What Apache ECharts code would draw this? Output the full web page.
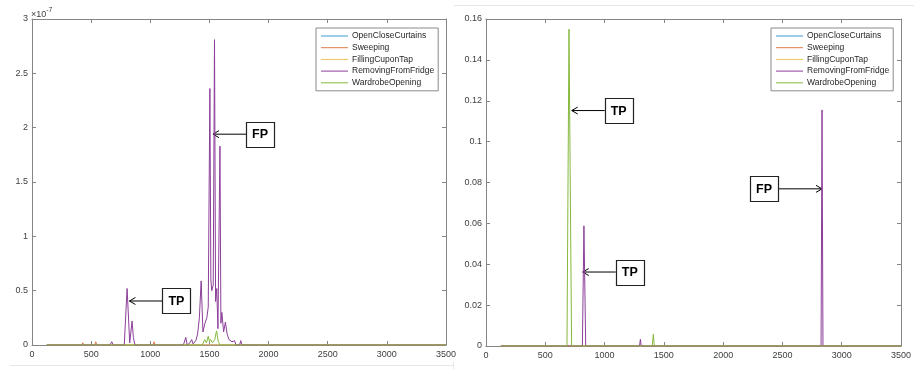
<!DOCTYPE html>
<html>
<head>
<meta charset="utf-8">
<script src="https://cdn.jsdelivr.net/npm/echarts@6/dist/echarts.min.js"></script>
<style>
  html, body { margin: 0; padding: 0; background: #fff; }
  #main { width: 914px; height: 369px; }
</style>
</head>
<body>
<div id="main"></div>
<script>
// series names (legend order)
var seriesNames = ['OpenCloseCurtains', 'Sweeping', 'FillingCuponTap', 'RemovingFromFridge', 'WardrobeOpening'];
var seriesColors = ['#3d9bd4', '#dd7a4a', '#eec35a', '#8b3e99', '#86b83e'];

// x axis ticks (shared)
var xTicks = [0, 500, 1000, 1500, 2000, 2500, 3000, 3500];

// ---- left panel (values in units of 1e-7) ----
var leftCurtainsX = [125, 3500];
var leftCurtainsY = [0, 0];
var leftSweepingX = [125, 420, 429, 438, 530, 539, 548, 1022, 1032, 1042, 3500];
var leftSweepingY = [0, 0, 0.02, 0, 0, 0.03, 0, 0, 0.03, 0, 0];
var leftFillingX = [125, 3500];
var leftFillingY = [0, 0];
var leftFridgeX = [125, 660, 674, 688, 780, 804, 826, 846, 857, 870,
  1280, 1300, 1312, 1335, 1350, 1362, 1385, 1400, 1415, 1430, 1445, 1462, 1478, 1490,
  1504, 1512, 1520, 1532, 1543, 1552, 1562, 1572, 1589, 1597, 1605, 1620, 1635, 1650,
  1665, 1690, 1712, 1725, 1755, 1765, 1775, 1920, 1928, 1936, 3500];
var leftFridgeY = [0, 0, 0.03, 0, 0, 0.52, 0.02, 0.22, 0.07, 0,
  0, 0.07, 0, 0.02, 0.05, 0.01, 0.04, 0.1, 0.25, 0.59, 0.12, 0.2, 0.25, 0.35,
  2.36, 0.6, 0.5, 0.55, 2.81, 0.4, 0.52, 0.15, 1.83, 0.2, 0.3, 0.12, 0.21, 0.1,
  0.05, 0.03, 0.04, 0, 0, 0.04, 0, 0, 0.01, 0, 0];
var leftWardrobeX = [125, 1440, 1460, 1475, 1490, 1500, 1510, 1525, 1545, 1560, 1575, 1590, 3500];
var leftWardrobeY = [0, 0, 0.05, 0.02, 0.08, 0.03, 0.05, 0.02, 0.05, 0.13, 0.03, 0, 0];
var leftYTicks = [0, 0.5, 1, 1.5, 2, 2.5, 3];

// ---- right panel ----
var rightCurtainsX = [125, 3500];
var rightCurtainsY = [0, 0];
var rightSweepingX = [125, 3500];
var rightSweepingY = [0, 0];
var rightFillingX = [125, 3500];
var rightFillingY = [0, 0];
var rightFridgeX = [125, 813, 826, 841, 1295, 1302, 1309, 2826, 2834, 2842, 3500];
var rightFridgeY = [0, 0, 0.0588, 0, 0, 0.0033, 0, 0, 0.1155, 0, 0];
var rightWardrobeX = [125, 683, 700, 722, 1402, 1411, 1420, 3500];
var rightWardrobeY = [0, 0, 0.155, 0, 0, 0.0057, 0, 0];
var rightYTicks = [0, 0.02, 0.04, 0.06, 0.08, 0.1, 0.12, 0.14, 0.16];

// annotations: arrow tip in data coords, box on the given side
var annotations = [
  { panel: 0, x: 1530, y: 1.94, text: 'FP', side: 'right' },
  { panel: 0, x: 824, y: 0.405, text: 'TP', side: 'right' },
  { panel: 1, x: 723, y: 0.1152, text: 'TP', side: 'right' },
  { panel: 1, x: 816, y: 0.0362, text: 'TP', side: 'right' },
  { panel: 1, x: 2834, y: 0.0769, text: 'FP', side: 'left' }
];

var panelData = [
  { xs: [leftCurtainsX, leftSweepingX, leftFillingX, leftFridgeX, leftWardrobeX],
    ys: [leftCurtainsY, leftSweepingY, leftFillingY, leftFridgeY, leftWardrobeY],
    yTicks: leftYTicks },
  { xs: [rightCurtainsX, rightSweepingX, rightFillingX, rightFridgeX, rightWardrobeX],
    ys: [rightCurtainsY, rightSweepingY, rightFillingY, rightFridgeY, rightWardrobeY],
    yTicks: rightYTicks }
];

var axisColor = '#858585';
var labelColor = '#404040';
var fontFamily = 'Liberation Sans, Arial, sans-serif';

function zip(xs, ys) {
  var out = [];
  for (var i = 0; i < xs.length; i++) {
    out.push([xs[i], ys[i]]);
  }
  return out;
}

function plainNumber(v) {
  return String(+v.toFixed(6));
}

function xAxisFor(gridIndex, position) {
  return {
    type: 'value',
    gridIndex: gridIndex,
    position: position,
    min: xTicks[0],
    max: xTicks[xTicks.length - 1],
    interval: xTicks[1] - xTicks[0],
    axisLine: { show: true, onZero: false, lineStyle: { color: axisColor, width: 1 } },
    axisTick: { show: true, inside: true, length: 4, lineStyle: { color: axisColor } },
    axisLabel: { show: position === 'bottom', color: labelColor, fontSize: 9, fontFamily: fontFamily, margin: 5, formatter: plainNumber },
    splitLine: { show: false }
  };
}

function yAxisFor(gridIndex, position, ticks) {
  return {
    type: 'value',
    gridIndex: gridIndex,
    position: position,
    min: ticks[0],
    max: ticks[ticks.length - 1],
    interval: ticks[1] - ticks[0],
    axisLine: { show: true, onZero: false, lineStyle: { color: axisColor, width: 1 } },
    axisTick: { show: true, inside: true, length: 4, lineStyle: { color: axisColor } },
    axisLabel: { show: position === 'left', color: labelColor, fontSize: 9, fontFamily: fontFamily, margin: 4, formatter: plainNumber },
    splitLine: { show: false }
  };
}

var grids = [
  { left: 32, top: 19, width: 414, height: 326 },
  { left: 486, top: 19, width: 415, height: 327 }
];

var xAxes = [], yAxes = [], series = [];
for (var p = 0; p < 2; p++) {
  xAxes.push(xAxisFor(p, 'bottom'));
  xAxes.push(xAxisFor(p, 'top'));
  yAxes.push(yAxisFor(p, 'left', panelData[p].yTicks));
  yAxes.push(yAxisFor(p, 'right', panelData[p].yTicks));
  for (var s = 0; s < seriesNames.length; s++) {
    series.push({
      name: seriesNames[s],
      type: 'line',
      xAxisIndex: p * 2,
      yAxisIndex: p * 2,
      data: zip(panelData[p].xs[s], panelData[p].ys[s]),
      showSymbol: false,
      silent: true,
      animation: false,
      color: seriesColors[s],
      lineStyle: { width: 1, color: seriesColors[s] }
    });
  }
}

function legendFor(left) {
  return {
    data: seriesNames,
    orient: 'vertical',
    left: left,
    top: 28,
    icon: 'rect',
    itemWidth: 27,
    itemHeight: 1,
    itemGap: 1.7,
    padding: [3, 4, 3, 5],
    backgroundColor: '#fff',
    borderColor: '#8a8a8a',
    borderWidth: 1,
    borderRadius: 0,
    selectedMode: false,
    textStyle: { color: '#262626', fontSize: 8.5, fontFamily: fontFamily, lineHeight: 10, padding: [0, 0, 0, -1] }
  };
}

var chart = echarts.init(document.getElementById('main'), null, { renderer: 'canvas' });
chart.setOption({
  backgroundColor: '#fff',
  animation: false,
  grid: grids,
  xAxis: xAxes,
  yAxis: yAxes,
  legend: [legendFor(316), legendFor(771)],
  series: series
});

// overlay: exponent label, screenshot edges, annotation boxes/arrows
var graphics = [
  { type: 'line', shape: { x1: 454, y1: 5.5, x2: 914, y2: 5.5 }, style: { stroke: '#e6e6e6', lineWidth: 1 }, silent: true },
  { type: 'line', shape: { x1: 10, y1: 365.5, x2: 453, y2: 365.5 }, style: { stroke: '#e6e6e6', lineWidth: 1 }, silent: true },
  { type: 'line', shape: { x1: 453.5, y1: 362, x2: 453.5, y2: 369 }, style: { stroke: '#e6e6e6', lineWidth: 1 }, silent: true },
  {
    type: 'text', left: 31, top: 7, silent: true,
    style: {
      text: '{b|\u00d710}{s|-7}',
      rich: {
        b: { fontSize: 9, fontFamily: fontFamily, fill: labelColor, verticalAlign: 'bottom', lineHeight: 12 },
        s: { fontSize: 7, fontFamily: fontFamily, fill: labelColor, verticalAlign: 'top', lineHeight: 8, padding: [0, 0, 5, 0] }
      }
    }
  }
];

var boxW = 28, boxH = 25, arrowLen = 33;
annotations.forEach(function (a) {
  var seriesIndex = a.panel * seriesNames.length;
  var tip = chart.convertToPixel({ seriesIndex: seriesIndex }, [a.x, a.y]);
  var dir = a.side === 'right' ? 1 : -1;
  var lineEnd = tip[0] + dir * arrowLen;
  var boxX = dir > 0 ? lineEnd : lineEnd - boxW;
  if (a.side === 'left') {
    lineEnd = tip[0] - 44;
    boxX = lineEnd - boxW;
  }
  graphics.push({
    type: 'line', silent: true,
    shape: { x1: tip[0], y1: tip[1], x2: lineEnd, y2: tip[1] },
    style: { stroke: '#000', lineWidth: 1 }
  });
  graphics.push({
    type: 'polyline', silent: true,
    shape: { points: [[tip[0] + dir * 6, tip[1] - 3.5], [tip[0], tip[1]], [tip[0] + dir * 6, tip[1] + 3.5]] },
    style: { stroke: '#000', lineWidth: 1, fill: null }
  });
  graphics.push({
    type: 'rect', silent: true,
    shape: { x: Math.round(boxX) + 0.5, y: Math.round(tip[1] - boxH / 2) + 0.5, width: boxW, height: boxH },
    style: { stroke: '#222', lineWidth: 1.2, fill: '#fff' }
  });
  graphics.push({
    type: 'text', silent: true,
    x: boxX + boxW / 2, y: tip[1] + 0.5,
    style: {
      text: a.text, fill: '#000', fontSize: 12.5, fontWeight: 'bold', fontFamily: 'Liberation Sans, Arial, sans-serif',
      align: 'center', verticalAlign: 'middle'
    }
  });
});

chart.setOption({ graphic: graphics });
</script>
</body>
</html>
